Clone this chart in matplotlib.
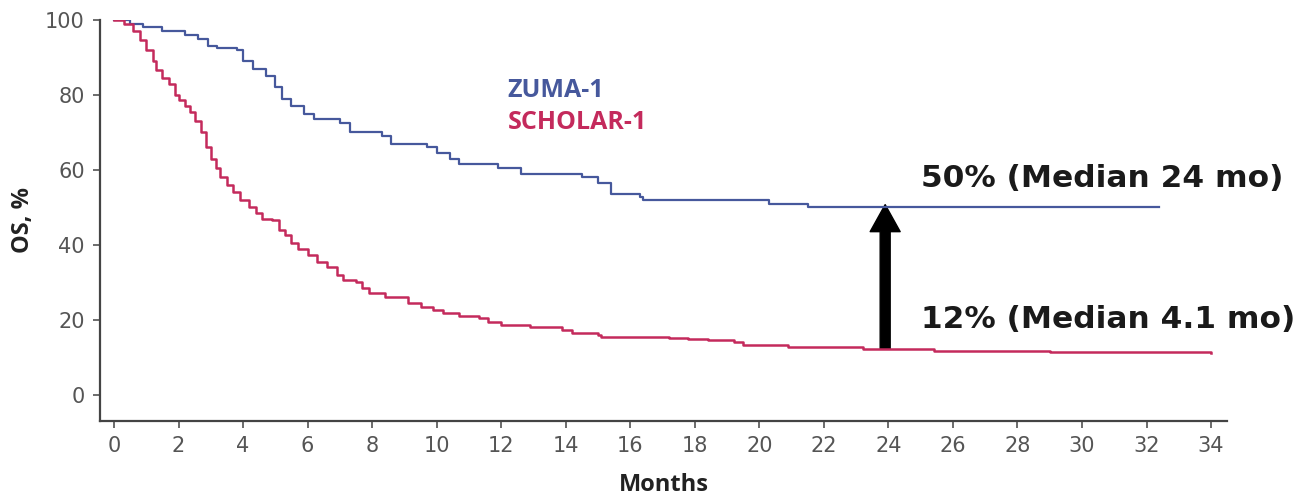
import matplotlib
matplotlib.use("Agg")
import matplotlib.pyplot as plt
from matplotlib.patches import FancyArrowPatch

# ZUMA-1 Kaplan-Meier steps (months, OS %)
zuma_t = [0, 0.5, 0.9, 1.5, 2.2, 2.6, 2.9, 3.2, 3.8, 4.0, 4.3, 4.7, 5.0, 5.2, 5.5,
          5.9, 6.2, 7.0, 7.3, 8.3, 8.6, 9.7, 10.0, 10.4, 10.7, 11.9, 12.6, 14.5,
          15.0, 15.4, 16.3, 16.4, 20.3, 21.5, 32.4]
zuma_os = [100, 99, 98, 97, 96, 95, 93, 92.5, 92, 89, 87, 85, 82, 79, 77,
           75, 73.5, 72.5, 70, 69, 67, 66, 64.5, 63, 61.5, 60.5, 59, 58,
           56.5, 53.5, 52.8, 52, 51, 50, 50]

# SCHOLAR-1
scholar_t = [0, 0.3, 0.6, 0.8, 1.0, 1.2, 1.3, 1.5, 1.7, 1.9, 2.0, 2.2, 2.35, 2.5,
             2.7, 2.85, 3.0, 3.15, 3.3, 3.5, 3.7, 3.9, 4.2, 4.4, 4.6, 4.9, 5.1,
             5.3, 5.5, 5.7, 6.0, 6.3, 6.6, 6.9, 7.1, 7.5, 7.7, 7.9, 8.4, 9.1,
             9.5, 9.9, 10.2, 10.7, 11.3, 11.6, 12.0, 12.9, 13.9, 14.2, 15.0,
             15.1, 17.2, 17.8, 18.4, 19.2, 19.5, 20.9, 23.2, 25.4, 29.0, 34.0]
scholar_os = [100, 99, 97, 94.5, 92, 89, 86.5, 84.5, 83, 80, 78.5, 77, 75.5, 73,
              70, 66, 63, 60.5, 58, 56, 54, 52, 50, 48.5, 47, 46.5, 44,
              42.5, 40.5, 39, 37.3, 35.5, 34, 32, 30.7, 30, 28.5, 27.2, 26, 24.5,
              23.5, 22.7, 21.8, 21, 20.5, 19.5, 18.7, 18, 17.2, 16.5, 16.0,
              15.5, 15.2, 14.8, 14.6, 14, 13.3, 12.8, 12.2, 11.8, 11.3, 11.2]

xticks = list(range(0, 35, 2))
yticks = [0, 20, 40, 60, 80, 100]

blue = "#46589c"
red = "#c42a5c"
axis_col = "#444444"

fig = plt.figure(figsize=(13, 4.95), dpi=100)
ax = fig.add_axes([0.077, 0.1495, 0.867, 0.8105])

ax.step(zuma_t, zuma_os, where="post", color=blue, lw=1.6)
ax.step(scholar_t, scholar_os, where="post", color=red, lw=1.8)

ax.set_xlim(-0.43, 34.5)
ax.set_ylim(-7, 100)
ax.set_xticks(xticks)
ax.set_yticks(yticks)
for s in ["top", "right"]:
    ax.spines[s].set_visible(False)
for s in ["left", "bottom"]:
    ax.spines[s].set_color(axis_col)
    ax.spines[s].set_linewidth(1.6)
ax.tick_params(colors=axis_col, labelcolor="#555555", labelsize=15, length=5, width=1.1, pad=6)
for lab in ax.get_xticklabels() + ax.get_yticklabels():
    lab.set_family("DejaVu Sans")

ax.set_xlabel("Months", fontsize=17, fontweight="bold", family="Open Sans", labelpad=12, color="#222222")
ax.set_ylabel("OS, %", fontsize=17, fontweight="bold", family="Open Sans", labelpad=7, color="#222222")

ax.text(12.2, 79.5, "ZUMA-1", color=blue, fontsize=18, fontweight="bold", family="Open Sans")
ax.text(12.2, 71, "SCHOLAR-1", color=red, fontsize=18, fontweight="bold", family="Open Sans")

ax.text(25.0, 55.5, "50% (Median 24 mo)", fontsize=22.5, fontweight="bold",
        family="DejaVu Sans", color="#1a1a1a")
ax.text(25.0, 17.9, "12% (Median 4.1 mo)", fontsize=22.5, fontweight="bold",
        family="DejaVu Sans", color="#1a1a1a")

arrow = FancyArrowPatch((23.9, 12.3), (23.9, 50.7),
                        arrowstyle="simple,head_length=2.7,head_width=3,tail_width=1",
                        mutation_scale=7.2, color="black", shrinkA=0, shrinkB=0)
ax.add_patch(arrow)

fig.savefig("out.png", dpi=100)
